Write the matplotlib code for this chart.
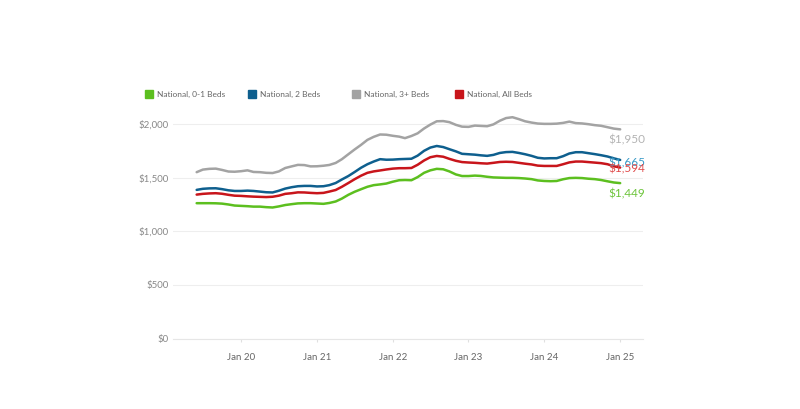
import pandas as pd
import matplotlib.pyplot as plt
import matplotlib.dates as mdates
from matplotlib.patches import Rectangle

plt.rcParams['font.family'] = ['Lato', 'DejaVu Sans']

months = pd.date_range('2019-06-01', '2025-01-01', freq='MS')

beds_0_1 = [1262, 1262, 1262, 1261, 1258, 1250, 1240, 1237, 1234, 1230, 1230, 1225,
            1222, 1232, 1245, 1253, 1260, 1262, 1262, 1259, 1256, 1264, 1278, 1305,
            1340, 1368, 1392, 1415, 1430, 1437, 1445, 1462, 1476, 1478, 1476, 1505,
            1545, 1568, 1582, 1578, 1558, 1530, 1515, 1515, 1519, 1516, 1508, 1502,
            1500, 1498, 1498, 1496, 1492, 1486, 1474, 1469, 1467, 1469, 1485, 1496,
            1498, 1496, 1490, 1486, 1478, 1466, 1455, 1449]
beds_2 = [1386, 1396, 1400, 1401, 1393, 1382, 1376, 1376, 1379, 1376, 1370, 1364,
          1362, 1378, 1398, 1411, 1420, 1423, 1423, 1418, 1420, 1430, 1450, 1483,
          1515, 1552, 1592, 1625, 1650, 1672, 1667, 1668, 1672, 1674, 1676, 1705,
          1750, 1780, 1795, 1785, 1765, 1745, 1722, 1718, 1714, 1708, 1703, 1712,
          1730, 1738, 1740, 1730, 1718, 1703, 1685, 1679, 1681, 1681, 1700, 1725,
          1737, 1737, 1728, 1719, 1709, 1697, 1680, 1665]
beds_3 = [1551, 1575, 1582, 1584, 1572, 1557, 1555, 1560, 1568, 1553, 1551, 1545,
          1543, 1558, 1590, 1605, 1619, 1617, 1605, 1606, 1611, 1618, 1637, 1672,
          1718, 1762, 1805, 1852, 1880, 1902, 1900, 1890, 1882, 1868, 1888, 1913,
          1958, 1994, 2025, 2027, 2017, 1992, 1975, 1973, 1985, 1982, 1979, 1996,
          2030, 2055, 2063, 2045, 2025, 2013, 2004, 2001, 2001, 2003, 2010, 2022,
          2008, 2005, 1998, 1989, 1983, 1970, 1957, 1950]
beds_all = [1342, 1349, 1353, 1355, 1350, 1340, 1332, 1330, 1326, 1323, 1321, 1319,
            1322, 1332, 1349, 1355, 1363, 1362, 1358, 1355, 1358, 1370, 1385, 1415,
            1450, 1485, 1518, 1545, 1558, 1567, 1576, 1584, 1588, 1588, 1590, 1620,
            1660, 1690, 1702, 1695, 1675, 1657, 1645, 1641, 1638, 1634, 1631, 1638,
            1646, 1648, 1646, 1638, 1630, 1623, 1612, 1609, 1609, 1609, 1625, 1642,
            1650, 1650, 1645, 1640, 1635, 1625, 1606, 1594]

series = [
    ('National, 0-1 Beds', beds_0_1, '#5cbf1f', '#6cc43a', -11),
    ('National, 2 Beds', beds_2, '#0e5f8e', '#3b9bc8', -3),
    ('National, 3+ Beds', beds_3, '#a3a3a3', '#b3b3b3', -11),
    ('National, All Beds', beds_all, '#c8151b', '#e04b4b', -1),
]

fig = plt.figure(figsize=(8, 4.09), dpi=100)
ax = fig.add_axes([0.216, 0.172, 0.588, 0.559])

for name, vals, color, lcolor, dy in series:
    ax.plot(months, vals, color=color, lw=1.8, solid_capstyle='round')
    ax.annotate(f'${vals[-1]:,}', xy=(months[-1], vals[-1]),
                xytext=(-8.5, dy * 0.72), textcoords='offset points',
                ha='left', va='center', fontsize=8.5, color=lcolor)

ax.set_ylim(0, 2130)
ax.set_yticks([0, 500, 1000, 1500, 2000])
ax.set_yticklabels(['$0', '$500', '$1,000', '$1,500', '$2,000'])
ax.set_xlim(pd.Timestamp('2019-02-06'), pd.Timestamp('2025-04-22'))
ax.set_xticks(pd.date_range('2020-01-01', '2025-01-01', freq='YS'))
ax.xaxis.set_major_formatter(mdates.DateFormatter('Jan %y'))
ax.grid(axis='y', color='#eeeeee', lw=0.8)
ax.set_axisbelow(True)
for s in ['top', 'right', 'left']:
    ax.spines[s].set_visible(False)
ax.spines['bottom'].set_color('#e6e6e6')
ax.tick_params(axis='y', length=0, labelsize=7, labelcolor='#888888', pad=3)
ax.tick_params(axis='x', length=2, color='#e0e0e0', labelsize=7,
               labelcolor='#666666', pad=8)

# legend across the top
leg_x = [145, 248, 352, 455]
for (name, vals, color, lcolor, dy), lx in zip(series, leg_x):
    fig.patches.append(Rectangle((lx / 800, 1 - 98 / 409), 8 / 800, 8 / 409,
                                 transform=fig.transFigure, color=color))
    fig.text((lx + 12) / 800, 1 - 94 / 409, name, fontsize=6,
             color='#666666', va='center')

fig.savefig('out.png', dpi=100)
